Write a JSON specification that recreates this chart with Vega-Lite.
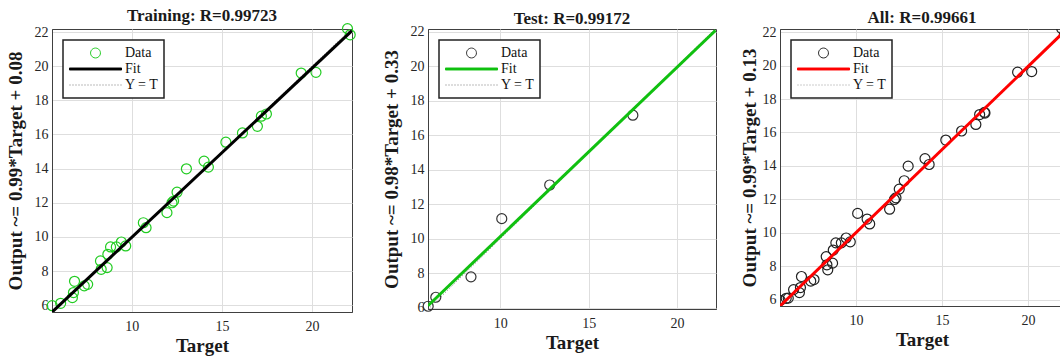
{
  "$schema": "https://vega.github.io/schema/vega-lite/v6.json",
  "background": "white",
  "padding": {"left": 5, "top": 6, "right": 0, "bottom": 0},
  "spacing": 22,
  "datasets": {
    "train": [
      {"series": "Data", "target": 5.58, "output": 5.97},
      {"series": "Data", "target": 6.05, "output": 6.11},
      {"series": "Data", "target": 6.70, "output": 6.44},
      {"series": "Data", "target": 6.76, "output": 6.74},
      {"series": "Data", "target": 6.82, "output": 7.40},
      {"series": "Data", "target": 7.36, "output": 7.13},
      {"series": "Data", "target": 7.55, "output": 7.22},
      {"series": "Data", "target": 8.30, "output": 8.10},
      {"series": "Data", "target": 8.26, "output": 8.59},
      {"series": "Data", "target": 8.63, "output": 8.20},
      {"series": "Data", "target": 8.67, "output": 8.98},
      {"series": "Data", "target": 8.82, "output": 9.41},
      {"series": "Data", "target": 9.14, "output": 9.41},
      {"series": "Data", "target": 9.42, "output": 9.70},
      {"series": "Data", "target": 9.66, "output": 9.47},
      {"series": "Data", "target": 10.64, "output": 10.83},
      {"series": "Data", "target": 10.79, "output": 10.54},
      {"series": "Data", "target": 11.95, "output": 11.42},
      {"series": "Data", "target": 12.23, "output": 12.00},
      {"series": "Data", "target": 12.32, "output": 12.10},
      {"series": "Data", "target": 12.51, "output": 12.62},
      {"series": "Data", "target": 13.03, "output": 13.99},
      {"series": "Data", "target": 14.01, "output": 14.44},
      {"series": "Data", "target": 14.25, "output": 14.09},
      {"series": "Data", "target": 15.22, "output": 15.55},
      {"series": "Data", "target": 16.14, "output": 16.09},
      {"series": "Data", "target": 16.97, "output": 16.48},
      {"series": "Data", "target": 17.19, "output": 17.07},
      {"series": "Data", "target": 17.47, "output": 17.20},
      {"series": "Data", "target": 19.40, "output": 19.60},
      {"series": "Data", "target": 20.22, "output": 19.64},
      {"series": "Data", "target": 21.97, "output": 22.20},
      {"series": "Data", "target": 22.12, "output": 21.84},
      {"series": "Fit", "target": 5.57, "output": 5.59},
      {"series": "Fit", "target": 22.22, "output": 22.08},
      {"series": "Y = T", "target": 5.57, "output": 5.57},
      {"series": "Y = T", "target": 22.22, "output": 22.22}
    ],
    "test": [
      {"series": "Data", "target": 5.93, "output": 6.10},
      {"series": "Data", "target": 6.36, "output": 6.62},
      {"series": "Data", "target": 8.35, "output": 7.80},
      {"series": "Data", "target": 10.09, "output": 11.17},
      {"series": "Data", "target": 12.80, "output": 13.12},
      {"series": "Data", "target": 17.50, "output": 17.16},
      {"series": "Fit", "target": 5.92, "output": 6.13},
      {"series": "Fit", "target": 22.18, "output": 22.07},
      {"series": "Y = T", "target": 5.92, "output": 5.92},
      {"series": "Y = T", "target": 22.18, "output": 22.18}
    ],
    "all": [
      {"series": "Data", "target": 5.58, "output": 5.97},
      {"series": "Data", "target": 6.05, "output": 6.11},
      {"series": "Data", "target": 6.70, "output": 6.44},
      {"series": "Data", "target": 6.76, "output": 6.74},
      {"series": "Data", "target": 6.82, "output": 7.40},
      {"series": "Data", "target": 7.36, "output": 7.13},
      {"series": "Data", "target": 7.55, "output": 7.22},
      {"series": "Data", "target": 8.30, "output": 8.10},
      {"series": "Data", "target": 8.26, "output": 8.59},
      {"series": "Data", "target": 8.63, "output": 8.20},
      {"series": "Data", "target": 8.67, "output": 8.98},
      {"series": "Data", "target": 8.82, "output": 9.41},
      {"series": "Data", "target": 9.14, "output": 9.41},
      {"series": "Data", "target": 9.42, "output": 9.70},
      {"series": "Data", "target": 9.66, "output": 9.47},
      {"series": "Data", "target": 10.64, "output": 10.83},
      {"series": "Data", "target": 10.79, "output": 10.54},
      {"series": "Data", "target": 11.95, "output": 11.42},
      {"series": "Data", "target": 12.23, "output": 12.00},
      {"series": "Data", "target": 12.32, "output": 12.10},
      {"series": "Data", "target": 12.51, "output": 12.62},
      {"series": "Data", "target": 13.03, "output": 13.99},
      {"series": "Data", "target": 14.01, "output": 14.44},
      {"series": "Data", "target": 14.25, "output": 14.09},
      {"series": "Data", "target": 15.22, "output": 15.55},
      {"series": "Data", "target": 16.14, "output": 16.09},
      {"series": "Data", "target": 16.97, "output": 16.48},
      {"series": "Data", "target": 17.19, "output": 17.07},
      {"series": "Data", "target": 17.47, "output": 17.20},
      {"series": "Data", "target": 19.40, "output": 19.60},
      {"series": "Data", "target": 20.22, "output": 19.64},
      {"series": "Data", "target": 21.97, "output": 22.20},
      {"series": "Data", "target": 22.12, "output": 21.84},
      {"series": "Data", "target": 5.93, "output": 6.10},
      {"series": "Data", "target": 6.36, "output": 6.62},
      {"series": "Data", "target": 8.35, "output": 7.80},
      {"series": "Data", "target": 10.09, "output": 11.17},
      {"series": "Data", "target": 12.80, "output": 13.12},
      {"series": "Data", "target": 17.50, "output": 17.16},
      {"series": "Fit", "target": 5.57, "output": 5.64},
      {"series": "Fit", "target": 22.22, "output": 22.13},
      {"series": "Y = T", "target": 5.57, "output": 5.57},
      {"series": "Y = T", "target": 22.22, "output": 22.22}
    ]
  },
  "resolve": {
    "scale": {"x": "independent", "y": "independent", "stroke": "independent"},
    "legend": {"stroke": "independent"},
    "axis": {"x": "independent", "y": "independent"}
  },
  "hconcat": [
    {
      "width": 300, "height": 283,
      "title": {"text": "Training: R=0.99723", "offset": -4},
      "data": {"name": "train"},
      "encoding": {
        "x": {"field": "target", "type": "quantitative", "scale": {"domain": [5.57, 22.22], "nice": false, "zero": false}, "axis": {"title": "Target", "values": [10, 15, 20], "labelFont": "Liberation Serif"}},
        "y": {"field": "output", "type": "quantitative", "scale": {"domain": [5.6, 22.18], "nice": false, "zero": false}, "axis": {"title": "Output ~= 0.99*Target + 0.08", "values": [6, 8, 10, 12, 14, 16, 18, 20, 22], "labelFont": "Liberation Serif"}},
        "stroke": {"field": "series", "type": "nominal", "scale": {"domain": ["Data", "Fit", "Y = T"], "range": ["#22cc22", "#000000", "#777777"]},
          "legend": {"orient": "top-left", "offset": 11, "title": null, "symbolSize": 2704, "symbolStrokeWidth": 1, "clipHeight": 16, "rowPadding": 0, "padding": 5, "symbolOffset": 1, "labelFont": "Liberation Serif", "labelFontSize": 14, "labelColor": "#111111", "labelOffset": 3, "fillColor": "white", "strokeColor": "#222222",
            "encode": {
              "symbols": {"update": {
                "shape": {"signal": "datum.value === 'Data' ? 'M0.19,0A0.19,0.19,0,1,1,-0.19,0A0.19,0.19,0,1,1,0.19,0Z' : datum.value === 'Fit' ? 'M-1,-0.04L1,-0.04L1,0.04L-1,0.04Z' : 'M-1,0L1,0'"},
                "strokeDash": {"signal": "datum.value === 'Y = T' ? [1, 2] : [1, 0]"},
                "fill": {"signal": "datum.value === 'Fit' ? '#000000' : 'transparent'"},
                "opacity": {"value": 1}
              }},
              "legend": {"update": {"strokeWidth": {"value": 1.5}}}
            }}}
      },
      "layer": [
        {"transform": [{"filter": "datum.series === 'Y = T'"}], "mark": {"type": "line", "strokeDash": [1, 2], "strokeWidth": 1, "clip": true}},
        {"transform": [{"filter": "datum.series === 'Data'"}], "mark": {"type": "point", "shape": "circle", "filled": false, "size": 100, "strokeWidth": 1.2, "opacity": 1}},
        {"transform": [{"filter": "datum.series === 'Fit'"}], "mark": {"type": "line", "strokeWidth": 3, "clip": true}}
      ]
    },
    {
      "width": 288, "height": 280,
      "title": {"text": "Test: R=0.99172", "offset": -3},
      "data": {"name": "test"},
      "encoding": {
        "x": {"field": "target", "type": "quantitative", "scale": {"domain": [5.92, 22.2], "nice": false, "zero": false}, "axis": {"title": "Target", "values": [10, 15, 20], "labelFont": "Liberation Serif"}},
        "y": {"field": "output", "type": "quantitative", "scale": {"domain": [5.94, 22.15], "nice": false, "zero": false}, "axis": {"title": "Output ~= 0.98*Target + 0.33", "values": [6, 8, 10, 12, 14, 16, 18, 20, 22], "labelFont": "Liberation Serif"}},
        "stroke": {"field": "series", "type": "nominal", "scale": {"domain": ["Data", "Fit", "Y = T"], "range": ["#333333", "#10c010", "#777777"]},
          "legend": {"orient": "top-left", "offset": 11, "title": null, "symbolSize": 2704, "symbolStrokeWidth": 1, "clipHeight": 16, "rowPadding": 0, "padding": 5, "symbolOffset": 1, "labelFont": "Liberation Serif", "labelFontSize": 14, "labelColor": "#111111", "labelOffset": 3, "fillColor": "white", "strokeColor": "#222222",
            "encode": {
              "symbols": {"update": {
                "shape": {"signal": "datum.value === 'Data' ? 'M0.19,0A0.19,0.19,0,1,1,-0.19,0A0.19,0.19,0,1,1,0.19,0Z' : datum.value === 'Fit' ? 'M-1,-0.04L1,-0.04L1,0.04L-1,0.04Z' : 'M-1,0L1,0'"},
                "strokeDash": {"signal": "datum.value === 'Y = T' ? [1, 2] : [1, 0]"},
                "fill": {"signal": "datum.value === 'Fit' ? '#10c010' : 'transparent'"},
                "opacity": {"value": 1}
              }},
              "legend": {"update": {"strokeWidth": {"value": 1.5}}}
            }}}
      },
      "layer": [
        {"transform": [{"filter": "datum.series === 'Y = T'"}], "mark": {"type": "line", "strokeDash": [1, 2], "strokeWidth": 1, "clip": true}},
        {"transform": [{"filter": "datum.series === 'Data'"}], "mark": {"type": "point", "shape": "circle", "filled": false, "size": 100, "strokeWidth": 1.2, "opacity": 1}},
        {"transform": [{"filter": "datum.series === 'Fit'"}], "mark": {"type": "line", "strokeWidth": 3, "clip": true}}
      ]
    },
    {
      "width": 284, "height": 277,
      "title": {"text": "All: R=0.99661", "offset": -2},
      "data": {"name": "all"},
      "encoding": {
        "x": {"field": "target", "type": "quantitative", "scale": {"domain": [5.57, 22.1], "nice": false, "zero": false}, "axis": {"title": "Target", "values": [10, 15, 20], "labelFont": "Liberation Serif"}},
        "y": {"field": "output", "type": "quantitative", "scale": {"domain": [5.64, 22.18], "nice": false, "zero": false}, "axis": {"title": "Output ~= 0.99*Target + 0.13", "values": [6, 8, 10, 12, 14, 16, 18, 20, 22], "labelFont": "Liberation Serif", "titlePadding": 3, "minExtent": 18, "maxExtent": 18}},
        "stroke": {"field": "series", "type": "nominal", "scale": {"domain": ["Data", "Fit", "Y = T"], "range": ["#222222", "#ff0000", "#999999"]},
          "legend": {"orient": "top-left", "offset": 11, "title": null, "symbolSize": 2704, "symbolStrokeWidth": 1, "clipHeight": 16, "rowPadding": 0, "padding": 5, "symbolOffset": 1, "labelFont": "Liberation Serif", "labelFontSize": 14, "labelColor": "#111111", "labelOffset": 3, "fillColor": "white", "strokeColor": "#222222",
            "encode": {
              "symbols": {"update": {
                "shape": {"signal": "datum.value === 'Data' ? 'M0.19,0A0.19,0.19,0,1,1,-0.19,0A0.19,0.19,0,1,1,0.19,0Z' : datum.value === 'Fit' ? 'M-1,-0.04L1,-0.04L1,0.04L-1,0.04Z' : 'M-1,0L1,0'"},
                "strokeDash": {"signal": "datum.value === 'Y = T' ? [1, 2] : [1, 0]"},
                "fill": {"signal": "datum.value === 'Fit' ? '#ff0000' : 'transparent'"},
                "opacity": {"value": 1}
              }},
              "legend": {"update": {"strokeWidth": {"value": 1.5}}}
            }}}
      },
      "layer": [
        {"transform": [{"filter": "datum.series === 'Y = T'"}], "mark": {"type": "line", "strokeDash": [1, 2], "strokeWidth": 1, "clip": true}},
        {"transform": [{"filter": "datum.series === 'Data'"}], "mark": {"type": "point", "shape": "circle", "filled": false, "size": 100, "strokeWidth": 1.2, "opacity": 1, "clip": true}},
        {"transform": [{"filter": "datum.series === 'Fit'"}], "mark": {"type": "line", "strokeWidth": 3, "clip": true}}
      ]
    }
  ],
  "config": {
    "view": {"stroke": "#404040", "strokeWidth": 1},
    "style": {"guide-label": {"font": "Liberation Serif"}},
    "axis": {
      "labelFont": "Liberation Serif", "labelFontSize": 14, "labelColor": "#262626",
      "titleFont": "Liberation Serif", "titleFontSize": 19, "titleFontWeight": "bold", "titleColor": "#1a1a1a",
      "gridColor": "#dedede", "gridWidth": 1, "domainColor": "#404040", "ticks": false
    },
    "axisX": {"labelPadding": 7, "titlePadding": 3},
    "axisY": {"labelPadding": 4, "titlePadding": 7, "minExtent": 20, "maxExtent": 20},
    "title": {"font": "Liberation Serif", "fontSize": 17, "fontWeight": "bold", "color": "#1a1a1a", "baseline": "alphabetic"}
  }
}
